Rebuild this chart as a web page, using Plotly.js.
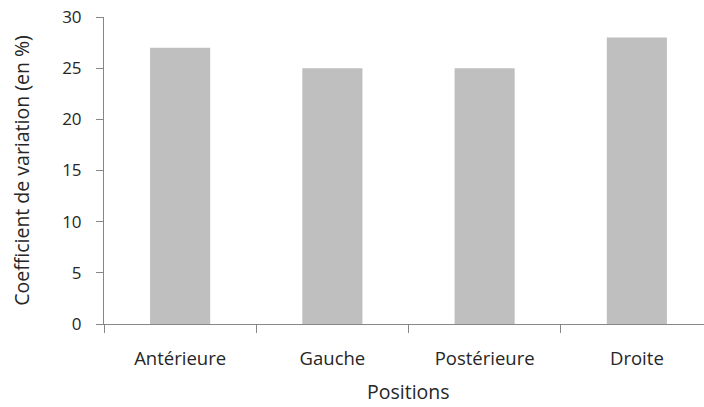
<!DOCTYPE html>
<html><head><meta charset="utf-8">
<script src="https://cdn.plot.ly/plotly-3.0.1.min.js"></script>
<style>html,body{margin:0;padding:0;overflow:hidden;background:#fff;width:704px;height:407px}</style>
</head><body><div id="chart" style="width:714px;height:407px"></div>
<script>
const categories = ["Antérieure", "Gauche", "Postérieure", "Droite"];
const values = [27, 25, 25, 28];
const yTicks = [0, 5, 10, 15, 20, 25, 30];
const xTitle = "Positions";
const yTitle = "Coefficient de variation (en %)";

const fam = "'Open Sans', sans-serif";
const col = "#262626";
Plotly.newPlot("chart", [{
  type: "bar", x: categories, y: values,
  marker: {color: "#BFBFBF"}, hoverinfo: "skip"
}], {
  width: 714, height: 407,
  margin: {l: 104, r: 1, t: 17, b: 83},
  paper_bgcolor: "#fff", plot_bgcolor: "#fff",
  bargap: 0.605,
  font: {family: fam, color: col, size: 17},
  showlegend: false,
  xaxis: {
    type: "category", tickson: "boundaries", ticks: "outside", ticklen: 8, tickcolor: "#868686",
    showline: true, linecolor: "#868686", linewidth: 1, showgrid: false, zeroline: false,
    ticklabelstandoff: 18, automargin: false,
    tickfont: {size: 18.5, family: fam, color: col}
  },
  yaxis: {
    range: [0, 30], tickvals: yTicks, ticks: "outside", ticklen: 7, tickcolor: "#868686",
    showline: true, linecolor: "#868686", linewidth: 1, showgrid: false, zeroline: false,
    ticklabelstandoff: 11, automargin: false,
    tickfont: {size: 17, family: fam, color: col},
    title: {text: yTitle, font: {size: 19.5, family: fam, color: col}, standoff: 27}
  },
  annotations: [{
    text: xTitle, xref: "paper", yref: "paper", x: 0.5, y: -0.22,
    xanchor: "center", yanchor: "middle", showarrow: false, borderpad: 0,
    font: {size: 19.5, family: fam, color: col}
  }]
}, {staticPlot: true});
</script></body></html>
